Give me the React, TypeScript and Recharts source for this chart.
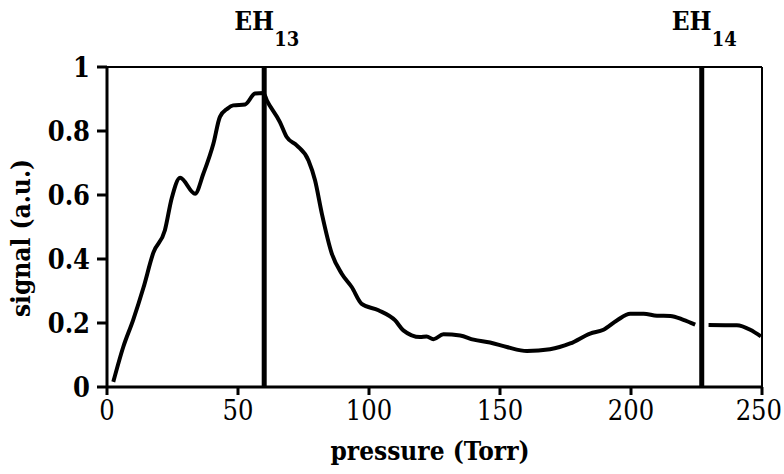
import { LineChart, Line, XAxis, YAxis, ReferenceLine } from "recharts";

// ─── Data ───────────────────────────────────────────────
const pressure = [
    2.4, 6.2, 10, 13.9, 17.7, 22.1, 24.7, 27.9, 33.6, 36.8, 40.6, 43.1, 46,
    48.2, 52.7, 56.5, 59.7, 61, 66, 68.6, 72.4, 76.9, 79.4, 82, 85.8, 89.6,
    93.4, 97.2, 103.6, 110, 113.1, 119.5, 122, 124.6, 128.4, 134.8, 139.9,
    146.2, 152.6, 160.3, 169.1, 176.8, 184.4, 189.5, 194.6, 199.7, 204.8,
    209.9, 215, 220, 224.5, 227, 229.6, 240.4, 245.5, 249.6,
];

// null = gap in the trace behind the EH14 marker
const signal: (number | null)[] = [
    0.016, 0.125, 0.21, 0.31, 0.42, 0.49, 0.59, 0.654, 0.604, 0.667, 0.76,
    0.844, 0.87, 0.88, 0.883, 0.917, 0.919, 0.896, 0.828, 0.781, 0.755, 0.708,
    0.646, 0.542, 0.417, 0.354, 0.3125, 0.26, 0.24, 0.208, 0.177, 0.156, 0.158,
    0.149, 0.165, 0.161, 0.148, 0.139, 0.125, 0.1125, 0.118, 0.136, 0.167,
    0.179, 0.208, 0.229, 0.229, 0.223, 0.222, 0.21, 0.195, null, 0.194, 0.193,
    0.179, 0.158,
];

const xTicks = [0, 50, 100, 150, 200, 250];
const yTicks = [0, 0.2, 0.4, 0.6, 0.8, 1];

// resonance markers
const markers = [
    { x: 60, sub: "13" },
    { x: 227, sub: "14" },
];

const data = pressure.map((p, i) => ({ pressure: p, signal: signal[i] }));

// Liberation Serif doesn't resolve in the sandbox, DejaVu Serif does
const FONT = "DejaVu Serif Condensed, DejaVu Serif";

// ─── X tick: last label nudged so it stays inside the frame ─
function XTick(props: any) {
    const { x, y, payload } = props;
    const last = payload.value === xTicks[xTicks.length - 1];
    return (
        <text
            x={last ? x + 20 : x}
            y={y}
            dy="0.71em"
            textAnchor={last ? "end" : "middle"}
            fontFamily={FONT}
            fontSize={27}
            fill="#000"
        >
            {payload.value}
        </text>
    );
}

// ─── Marker label: EH with subscript ────────────────────
function EHLabel(props: any) {
    const { viewBox, sub } = props;
    if (!viewBox) return null;
    return (
        <text
            x={viewBox.x - 30}
            y={30}
            fontFamily={FONT}
            fontWeight="bold"
            fontSize={26}
            fill="#000"
        >
            EH
            <tspan fontSize={20} dy={16}>
                {sub}
            </tspan>
        </text>
    );
}

function YTitle() {
    return (
        <text
            x={30}
            y={238}
            transform="rotate(-90 30 238)"
            textAnchor="middle"
            fontFamily={FONT}
            fontWeight="bold"
            fontSize={26}
            fill="#000"
        >
            signal (a.u.)
        </text>
    );
}

function XTitle() {
    return (
        <text
            x={430}
            y={460}
            textAnchor="middle"
            fontFamily={FONT}
            fontWeight="bold"
            fontSize={26}
            fill="#000"
        >
            pressure (Torr)
        </text>
    );
}

export default function App() {
    return (
        <div style={{ position: "absolute", left: 0, top: 0, background: "#fff" }}>
            <LineChart
                width={784}
                height={474}
                data={data}
                margin={{ top: 67, right: 22, left: 0, bottom: 0 }}
            >
                <XAxis
                    dataKey="pressure"
                    type="number"
                    domain={[0, 250]}
                    ticks={xTicks}
                    height={87}
                    stroke="#000"
                    strokeWidth={3}
                    tickSize={8}
                    tickMargin={6}
                    tick={<XTick />}
                    label={<XTitle />}
                />
                <YAxis
                    type="number"
                    domain={[0, 1]}
                    ticks={yTicks}
                    width={107}
                    stroke="#000"
                    strokeWidth={3}
                    tickSize={10}
                    tickMargin={7}
                    tickFormatter={(v) => String(v)}
                    tick={{
                        fill: "#000",
                        fontSize: 27,
                        fontWeight: "bold",
                        fontFamily: FONT,
                    }}
                    label={<YTitle />}
                />

                {/* frame: top and right edges */}
                <ReferenceLine y={1} stroke="#000" strokeWidth={2} />
                <ReferenceLine x={250} stroke="#000" strokeWidth={2} />

                {markers.map((m) => (
                    <ReferenceLine
                        key={m.sub}
                        x={m.x}
                        stroke="#000"
                        strokeWidth={5}
                        label={<EHLabel sub={m.sub} />}
                    />
                ))}

                <Line
                    type="monotone"
                    dataKey="signal"
                    stroke="#000"
                    strokeWidth={4}
                    dot={false}
                    connectNulls={false}
                    isAnimationActive={false}
                />
            </LineChart>
        </div>
    );
}
